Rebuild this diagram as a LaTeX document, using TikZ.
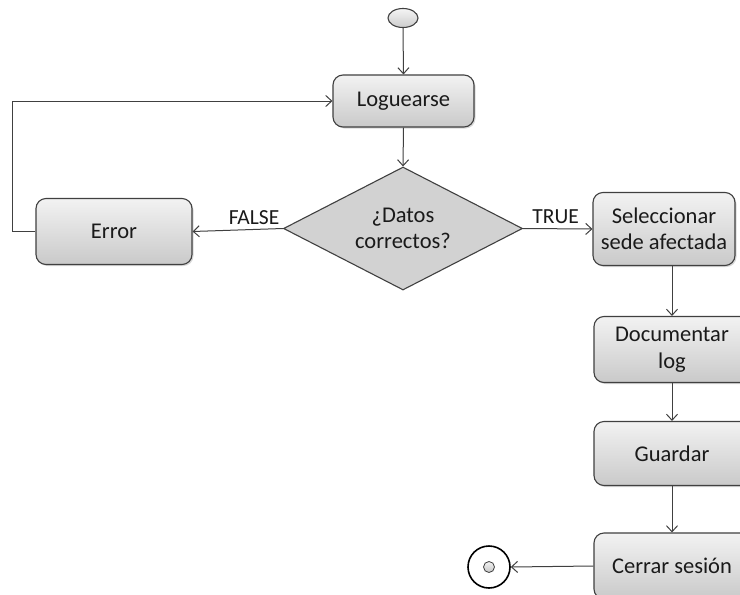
\documentclass[tikz,border=0pt]{standalone}
\usepackage{fontspec}
\setmainfont{Carlito}
\usetikzlibrary{shapes.geometric,shadows,arrows.meta}
\definecolor{edge}{HTML}{404040}
\definecolor{ink}{HTML}{1A1A1A}
\tikzset{
  flow/.style={draw=edge, line width=1.1pt, rounded corners=10pt,
    top color=gray!10, bottom color=gray!42, text=ink, align=center,
    inner sep=0pt, font=\fontsize{22.5}{26.5}\selectfont,
    drop shadow={opacity=0.3, shadow xshift=1.5pt, shadow yshift=-1.5pt}},
  decision/.style={draw=edge, line width=1.1pt, diamond, fill=gray!35,
    text=ink, align=center, inner sep=0pt, font=\fontsize{22.5}{26.5}\selectfont},
  link/.style={draw=edge, line width=1pt, -{Straight Barb[length=6pt,width=11pt]}},
  tag/.style={text=ink, font=\fontsize{21.5}{24}\selectfont}
}
\begin{document}
\begin{tikzpicture}[x=1pt,y=-1pt]
\clip (0,0) rectangle (740,595);
\fill[white] (0,0) rectangle (740,595);

% start marker
\node[draw=edge, line width=1.1pt, ellipse, minimum width=30pt, minimum height=19pt,
      inner sep=0pt, top color=gray!8, bottom color=gray!40] (start) at (403,18) {};

% process steps
\node[flow, minimum width=141pt, minimum height=52pt] (log) at (403.5,101) {Loguearse};
\node[decision, minimum width=239pt, minimum height=123pt, aspect=1.94] (dec) at (403,228.5) {¿Datos\\correctos?};
\node[flow, minimum width=156pt, minimum height=66pt] (err) at (114,231.5) {Error};
\node[flow, minimum width=142pt, minimum height=73pt] (sel) at (664,229) {Seleccionar\\sede afectada};
\node[flow, minimum width=156pt, minimum height=66pt] (doc) at (672,349.5) {Documentar\\log};
\node[flow, minimum width=156pt, minimum height=64pt] (gua) at (672,453.5) {Guardar};
\node[flow, minimum width=156pt, minimum height=66pt] (cer) at (672,566) {Cerrar sesión};

% end marker
\node[draw=black, line width=1.6pt, circle, minimum size=42pt, inner sep=0pt, fill=white] (end) at (489,567) {};
\node[draw=edge, line width=0.8pt, circle, minimum size=11pt, inner sep=0pt,
      top color=gray!10, bottom color=gray!45] (endin) at (end.center) {};

% connectors
\draw[link] (start.south) -- (log.north);
\draw[link] (log.south) -- (dec.north);
\draw[link] (dec.west) -- node[tag, above, pos=0.32, yshift=1pt] {FALSE} (err.east);
\draw[link] (dec.east) -- node[tag, above, pos=0.47, yshift=1pt] {TRUE} (sel.west);
\draw[link] (err.west) -- ++(-23,0) |- (log.west);
\draw[link] (sel.south -| doc.north) -- (doc.north);
\draw[link] (doc.south) -- (gua.north);
\draw[link] (gua.south) -- (cer.north);
\draw[link] (cer.west) -- (end.east);
\end{tikzpicture}
\end{document}
